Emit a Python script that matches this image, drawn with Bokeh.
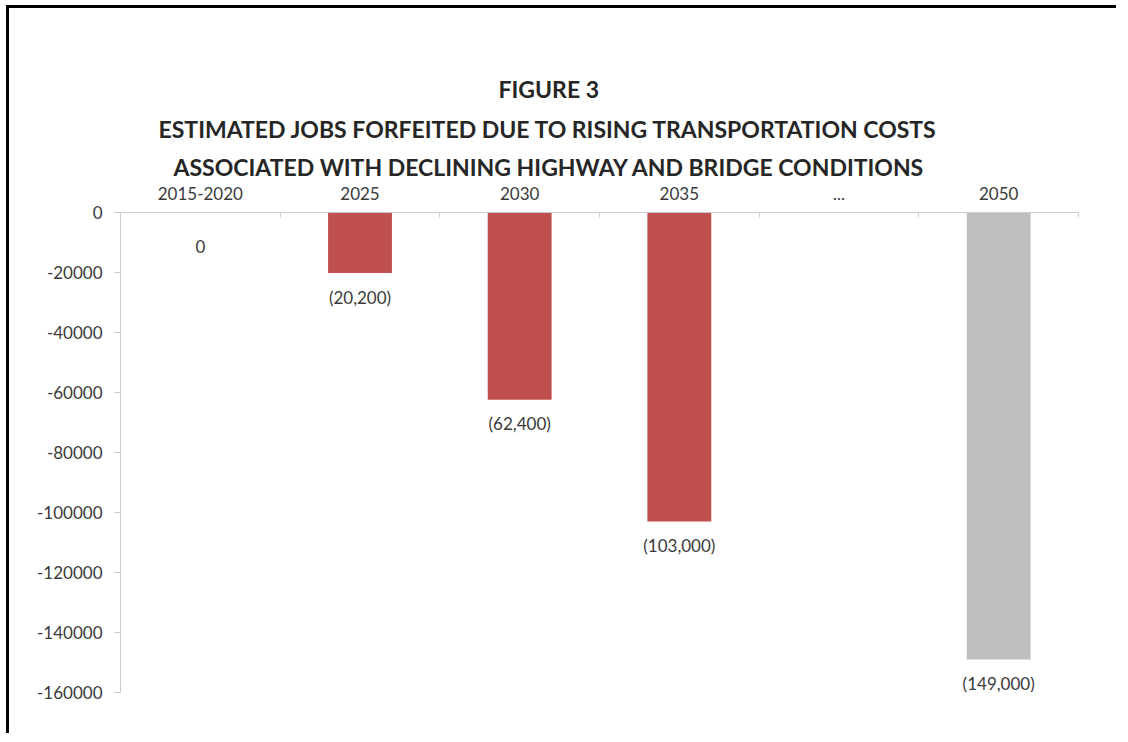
from bokeh.plotting import figure
from bokeh.models import (Range1d, LinearAxis, FixedTicker, Title,
                          NumeralTickFormatter)
from bokeh.embed import file_html
from bokeh.resources import INLINE
from bokeh.core.properties import value
import math

# ---------------- data ----------------
categories = ["2015-2020", "2025", "2030", "2035", "...", "2050"]
jobs_forfeited = [0, -20200, -62400, -103000, float("nan"), -149000]
bar_colors = ["#C0504D", "#C0504D", "#C0504D", "#C0504D", "#C0504D", "#BFBFBF"]
y_ticks = [0, -20000, -40000, -60000, -80000, -100000, -120000, -140000, -160000]
title_lines = [
    "FIGURE 3",
    "ESTIMATED JOBS FORFEITED DUE TO RISING TRANSPORTATION COSTS",
    "ASSOCIATED WITH DECLINING HIGHWAY AND BRIDGE CONDITIONS",
]

FONT = "Lato"
TXT = "#3A3A3A"
AXC = "#CCCCCC"

n = len(categories)
xpos = list(range(n))  # category slot index

# ---------------- layout constants ----------------
W, H = 1110, 728
FRAME_LEFT, FRAME_TOP, FRAME_RIGHT, FRAME_BOTTOM = 111, 204, 41, 44

p = figure(
    x_range=Range1d(-0.5, n - 0.5),
    y_range=Range1d(min(y_ticks), max(y_ticks)),
    width=W, height=H,
    x_axis_location=None,
    title_location=None,
    output_backend="svg", toolbar_location=None,
    min_border_left=FRAME_LEFT, min_border_right=FRAME_RIGHT,
    min_border_bottom=FRAME_BOTTOM, min_border_top=FRAME_TOP,
    border_fill_color="white", background_fill_color="white",
)
p.styles = {"margin-left": "9px", "margin-top": "8px",
            "box-shadow": "-3px -3px 0px 0px #000000"}
p.outline_line_color = None
p.grid.visible = False

# bars
p.vbar(x=xpos, top=jobs_forfeited, bottom=0, width=0.4,
       fill_color=bar_colors, line_color=None)

# data labels
def fmt(v):
    return "0" if v == 0 else "({:,.0f})".format(abs(v))

lab_x = [x for x, v in zip(xpos, jobs_forfeited) if not math.isnan(v) and v != 0]
lab_y = [v for v in jobs_forfeited if not math.isnan(v) and v != 0]
lab_t = [fmt(v) for v in lab_y]
zero_x = [x for x, v in zip(xpos, jobs_forfeited) if v == 0]
zero_y = [v for v in jobs_forfeited if v == 0]
zero_t = [fmt(v) for v in zero_y]

p.text(x=lab_x, y=lab_y, text=lab_t, text_align="center", text_baseline="middle",
       y_offset=24, text_font=value(FONT), text_font_size="17px", text_color=TXT)
p.text(x=zero_x, y=zero_y, text=zero_t, text_align="center", text_baseline="middle",
       y_offset=34, text_font=value(FONT), text_font_size="17px", text_color=TXT)

# y axis
ya = p.yaxis[0]
ya.ticker = FixedTicker(ticks=y_ticks)
ya.formatter = NumeralTickFormatter(format="0")
ya.axis_line_color = AXC
ya.major_tick_line_color = AXC
ya.major_tick_out = 6
ya.major_tick_in = 0
ya.minor_tick_line_color = None
ya.major_label_standoff = 12
ya.major_label_text_font = FONT
ya.major_label_text_font_size = "17px"
ya.major_label_text_color = TXT

# boundary ticks axis (line + ticks between categories), closest to frame
ba = LinearAxis(ticker=FixedTicker(ticks=[i - 0.5 for i in range(n + 1)]))
ba.axis_line_color = AXC
ba.major_tick_line_color = AXC
ba.major_tick_in = 5
ba.major_tick_out = 0
ba.minor_tick_line_color = None
ba.major_label_text_font_size = "0px"
ba.major_label_text_color = None
ba.major_label_standoff = 0

# category label axis
xa = LinearAxis(ticker=FixedTicker(ticks=xpos),
                major_label_overrides={i: c for i, c in zip(xpos, categories)})
xa.axis_line_color = None
xa.major_tick_line_color = None
xa.minor_tick_line_color = None
xa.major_tick_out = 0
xa.major_tick_in = 0
xa.major_label_standoff = 13
xa.major_label_text_font = FONT
xa.major_label_text_font_size = "17px"
xa.major_label_text_color = TXT

# invisible spacer axis between the category labels and the title block:
# its (white, out-of-range) ticks reserve 40px of height
sp = LinearAxis(ticker=FixedTicker(ticks=[-10]))
sp.axis_line_color = None
sp.major_tick_line_color = "white"
sp.minor_tick_line_color = None
sp.major_tick_in = 0
sp.major_tick_out = 40
sp.major_label_standoff = 0
sp.major_label_text_font_size = "0px"
sp.major_label_text_color = None

p.add_layout(ba, "above")
p.add_layout(xa, "above")
p.add_layout(sp, "above")

# titles (innermost first); left-aligned with offsets that centre them at x~548
title_offsets = [378, 38, 53]       # px from frame left, per line
title_standoffs = [12, 9, 6]
for line, off, so in reversed(list(zip(title_lines, title_offsets, title_standoffs))):
    p.add_layout(Title(text=line, align="left", offset=off, text_font=FONT,
                       text_font_size="23px", text_font_style="bold",
                       text_color="#262626", standoff=so), "above")

open("out.html", "w").write(file_html(p, INLINE))
